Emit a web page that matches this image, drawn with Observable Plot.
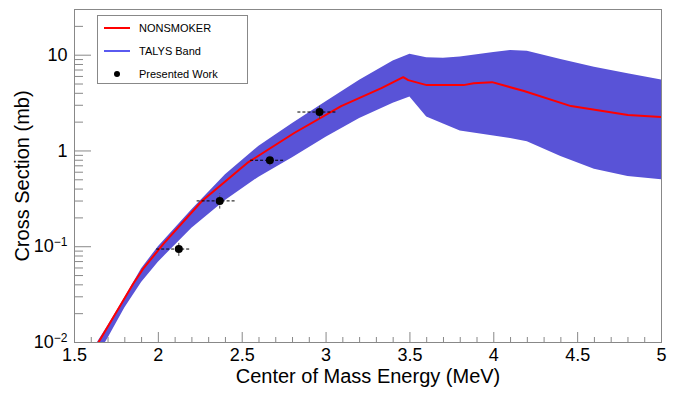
<!DOCTYPE html>
<html>
<head>
<meta charset="utf-8">
<script src="https://cdn.jsdelivr.net/npm/d3@7"></script>
<script src="https://cdn.jsdelivr.net/npm/@observablehq/plot@0.6"></script>
<style>
  html, body { margin: 0; padding: 0; background: #fff; }
  #wrap { position: relative; width: 683px; height: 394px; font-family: "Liberation Sans", Arial, sans-serif; }
  #legend { position: absolute; left: 97px; top: 15px; width: 151px; height: 69px; box-sizing: border-box;
            border: 1px solid #888; background: #fff; font-size: 11px; color: #000; }
  .row { position: absolute; left: 0; height: 14px; width: 100%; }
  .row .sym { position: absolute; left: 6px; width: 26px; top: 6px; height: 2px; }
  .row .txt { position: absolute; left: 41px; top: 0; line-height: 14px; white-space: nowrap; }
  .row .dotsym { position: absolute; left: 16px; top: 4px; width: 6px; height: 6px; border-radius: 50%; background: #000; }
</style>
</head>
<body>
<div id="wrap">
  <div id="chart"></div>
  <div id="legend">
    <div class="row" style="top:5px"><div class="sym" style="background:#ff0000"></div><div class="txt">NONSMOKER</div></div>
    <div class="row" style="top:28px"><div class="sym" style="background:#5a5af0"></div><div class="txt">TALYS Band</div></div>
    <div class="row" style="top:51px"><div class="dotsym"></div><div class="txt">Presented Work</div></div>
  </div>
</div>
<script>
// NONSMOKER curve
const nonsmokerE = [1.6, 1.85, 1.91, 2.03, 2.26, 2.53, 2.81, 3.09, 3.33, 3.46, 3.49, 3.6, 3.82, 3.88, 3.99, 4.18, 4.46, 4.8, 5.0];
const nonsmokerV = [0.0075, 0.041, 0.059, 0.107, 0.30, 0.75, 1.54, 2.94, 4.53, 5.9, 5.49, 4.87, 4.87, 5.1, 5.23, 4.22, 2.94, 2.37, 2.26];

// TALYS band
const talysE  = [1.6, 1.7, 1.8, 1.9, 2.0, 2.2, 2.4, 2.6, 2.8, 3.0, 3.2, 3.4, 3.5, 3.6, 3.7, 3.8, 4.0, 4.1, 4.2, 4.4, 4.6, 4.8, 5.0];
const talysHi = [0.0079, 0.0150, 0.0294, 0.059, 0.100, 0.243, 0.565, 1.12, 1.94, 3.26, 5.46, 8.7, 10.2, 9.4, 9.3, 9.6, 10.7, 11.2, 11.0, 9.0, 7.5, 6.4, 5.5];
const talysLo = [0.0056, 0.0111, 0.0229, 0.0422, 0.069, 0.156, 0.304, 0.533, 0.851, 1.39, 2.18, 3.15, 3.65, 2.26, 1.91, 1.62, 1.43, 1.35, 1.25, 0.875, 0.645, 0.542, 0.50];

// Presented work
const workE    = [2.122, 2.366, 2.665, 2.961];
const workEmin = [1.990, 2.231, 2.550, 2.832];
const workEmax = [2.188, 2.459, 2.748, 3.066];
const workV    = [0.0946, 0.301, 0.80, 2.55];
const workVmin = [0.0793, 0.247, 0.70, 2.14];
const workVmax = [0.111, 0.359, 0.90, 2.99];

// Axis ticks
const xMajor = [1.5, 2, 2.5, 3, 3.5, 4, 4.5, 5];
const xMinor = d3.range(15, 51).map(d => d / 10).filter(d => !xMajor.includes(d));
const yMajor = [0.01, 0.1, 1, 10];
const yMinor = [0.01, 0.1, 1, 10].flatMap(p => [2,3,4,5,6,7,8,9].map(m => +(m * p).toPrecision(3))).filter(v => v <= 30);
const yLabels = {0.01: "10^-2", 0.1: "10^-1", 1: "1", 10: "10"};

const nonsmoker = nonsmokerE.map((e, i) => ({E: e, v: nonsmokerV[i]}));
const band = talysE.map((e, i) => ({E: e, lo: talysLo[i], hi: talysHi[i]}));
const work = workE.map((e, i) => ({E: e, v: workV[i], e1: workEmin[i], e2: workEmax[i], v1: workVmin[i], v2: workVmax[i]}));

const W = 683, H = 394, mL = 74, mR = 22, mT = 9, mB = 52;
const pw = W - mL - mR, ph = H - mT - mB;

const chart = Plot.plot({
  width: W, height: H,
  marginLeft: mL, marginRight: mR, marginTop: mT, marginBottom: mB,
  style: {fontFamily: "'Liberation Sans', Arial, sans-serif", background: "#fff", color: "#000"},
  x: {domain: [1.5, 5]},
  y: {type: "log", domain: [0.01, 30]},
  marks: [
    Plot.areaY(band, {x: "E", y1: "lo", y2: "hi", fill: "#5953d7", clip: true}),
    Plot.line(nonsmoker, {x: "E", y: "v", stroke: "#ff0000", strokeWidth: 2, clip: true}),
    Plot.ruleY(work, {y: "v", x1: "e1", x2: "e2", stroke: "#000", strokeWidth: 1, strokeDasharray: "3,2"}),
    Plot.ruleX(work, {x: "E", y1: "v1", y2: "v2", stroke: "#444", strokeWidth: 1, strokeDasharray: "3,2"}),
    Plot.dot(work, {x: "E", y: "v", r: 4, fill: "#000"}),
    Plot.tickX(xMajor, {x: d => d, stroke: "#888", insetTop: ph - 10}),
    Plot.tickX(xMinor, {x: d => d, stroke: "#888", insetTop: ph - 5}),
    Plot.tickY(yMajor, {y: d => d, stroke: "#888", insetRight: pw - 17}),
    Plot.tickY(yMinor, {y: d => d, stroke: "#888", insetRight: pw - 9}),
    Plot.frame({stroke: "#888"}),
    Plot.axisX({ticks: xMajor, tickSize: 0, tickPadding: 6, fontSize: 18, tickFormat: d => String(d), label: null}),
    Plot.axisY({ticks: yMajor, tickSize: 0, tickPadding: 7, fontSize: 18, tickFormat: d => yLabels[d], label: null}),
    Plot.text(["Center of Mass Energy (MeV)"], {frameAnchor: "bottom", textAnchor: "middle", dy: 40, fontSize: 20, text: d => d}),
    Plot.text(["Cross Section (mb)"], {frameAnchor: "left", textAnchor: "middle", dx: -52, rotate: -90, fontSize: 20, text: d => d})
  ]
});
document.getElementById("chart").appendChild(chart);

// superscript exponents for y labels
chart.querySelectorAll("text").forEach(t => {
  const s = t.textContent;
  const m = /^10\^(-?\d+)$/.exec(s);
  if (m) {
    while (t.firstChild) t.removeChild(t.firstChild);
    t.appendChild(document.createTextNode("10"));
    const ts = document.createElementNS("http://www.w3.org/2000/svg", "tspan");
    ts.setAttribute("dy", "-0.5em");
    ts.setAttribute("font-size", "12");
    ts.textContent = m[1].replace("-", "\u2212");
    t.appendChild(ts);
  }
});
</script>
</body>
</html>
